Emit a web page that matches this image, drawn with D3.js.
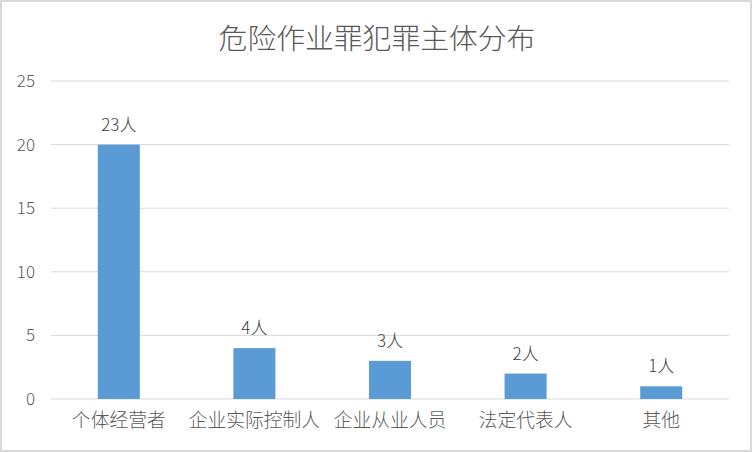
<!DOCTYPE html>
<html>
<head>
<meta charset="utf-8">
<script src="https://cdn.jsdelivr.net/npm/d3@7"></script>
<style>
  body { margin: 0; background: #fff; }
  text { font-family: "Noto Sans CJK SC", sans-serif; font-weight: 300; fill: #595959; }
</style>
</head>
<body>
<div id="chart"></div>
<script>
const categories = ["个体经营者", "企业实际控制人", "企业从业人员", "法定代表人", "其他"];
const values = [20, 4, 3, 2, 1];
const valueLabels = ["23人", "4人", "3人", "2人", "1人"];
const yTicks = [0, 5, 10, 15, 20, 25];
const titleText = "危险作业罪犯罪主体分布";

const WIDTH = 752;
const HEIGHT = 452;
const margin = { top: 81, right: 23, bottom: 53, left: 51 };
const FONT = "'Noto Sans CJK SC', sans-serif";

const svg = d3
  .select("#chart")
  .append("svg")
  .attr("width", WIDTH)
  .attr("height", HEIGHT);

//Border
svg
  .append("rect")
  .attr("x", 1)
  .attr("y", 1)
  .attr("width", WIDTH - 2)
  .attr("height", HEIGHT - 2)
  .attr("fill", "#fff")
  .attr("stroke", "#d9d9d9")
  .attr("stroke-width", 2);

const x = d3
  .scaleBand()
  .domain(categories)
  .range([margin.left, WIDTH - margin.right])
  .paddingInner(0.69)
  .paddingOuter(0.345);

const y = d3
  .scaleLinear()
  .domain([0, 25])
  .range([HEIGHT - margin.bottom, margin.top]);

//Gridlines
svg
  .append("g")
  .selectAll("line")
  .data(yTicks)
  .enter()
  .append("line")
  .attr("x1", margin.left)
  .attr("x2", WIDTH - margin.right)
  .attr("y1", (d) => y(d))
  .attr("y2", (d) => y(d))
  .attr("stroke", "#d9d9d9")
  .attr("stroke-width", 1);

//Y axis labels
const yAxis = d3.axisLeft(y).tickValues(yTicks).tickSize(0).tickPadding(16);
svg
  .append("g")
  .attr("transform", "translate(" + margin.left + ",0)")
  .call(yAxis)
  .call((g) => g.select(".domain").remove())
  .selectAll("text")
  .style("font-size", "17px")
  .style("font-family", FONT)
  .style("font-weight", 300)
  .attr("fill", "#595959");

//Bars
svg
  .selectAll(".bar")
  .data(values)
  .enter()
  .append("rect")
  .attr("class", "bar")
  .attr("x", (d, i) => x(categories[i]))
  .attr("y", (d) => y(d))
  .attr("width", x.bandwidth())
  .attr("height", (d) => y(0) - y(d))
  .attr("fill", "#5b9bd5");

//Value labels
svg
  .selectAll(".vlabel")
  .data(values)
  .enter()
  .append("text")
  .attr("class", "vlabel")
  .attr("x", (d, i) => x(categories[i]) + x.bandwidth() / 2)
  .attr("y", (d) => y(d) - 14)
  .attr("text-anchor", "middle")
  .style("font-size", "17px")
  .style("fill", "#404040")
  .text((d, i) => valueLabels[i]);

//X axis labels
const xAxis = d3.axisBottom(x).tickSize(0).tickPadding(15);
svg
  .append("g")
  .attr("transform", "translate(0," + y(0) + ")")
  .call(xAxis)
  .call((g) => g.select(".domain").remove())
  .selectAll("text")
  .style("font-size", "18.8px")
  .style("font-family", FONT)
  .style("font-weight", 300)
  .attr("fill", "#595959");

//Title
svg
  .append("text")
  .attr("x", WIDTH / 2 + 1)
  .attr("y", 49)
  .attr("text-anchor", "middle")
  .style("font-size", "28.8px")
  .text(titleText);
</script>
</body>
</html>
